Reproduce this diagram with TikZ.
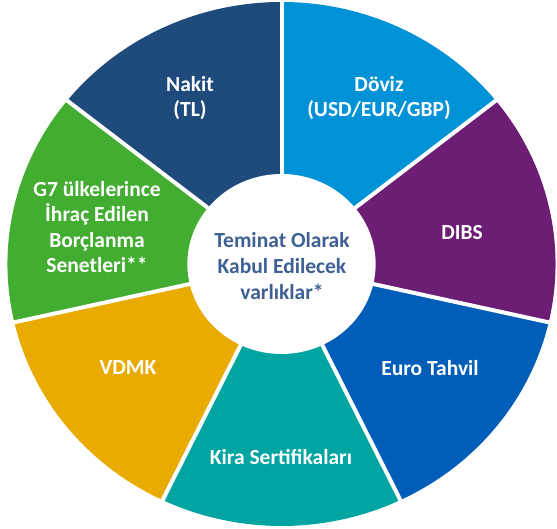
\documentclass[tikz,border=0pt]{standalone}
\usepackage{fontspec}
\setmainfont{Carlito}
\usepackage{tikz}
\usetikzlibrary{positioning, calc}
\definecolor{nakitblue}{RGB}{31,74,124}
\definecolor{dovizblue}{RGB}{0,146,214}
\definecolor{dibspurple}{RGB}{107,30,116}
\definecolor{euroblue}{RGB}{0,94,184}
\definecolor{kirateal}{RGB}{0,164,160}
\definecolor{vdmkgold}{RGB}{234,171,0}
\definecolor{gyedigreen}{RGB}{67,173,50}
\definecolor{hubtext}{RGB}{62,96,148}
\tikzstyle{slice} = [draw=none]
\tikzstyle{gap} = [white, line width=4pt]
\tikzstyle{label} = [text=white, font=\bfseries\fontsize{21.5}{25.5}\selectfont, align=center]
\tikzstyle{hub} = [text=hubtext, font=\bfseries\fontsize{21.5}{26}\selectfont, align=center]

\begin{document}
\begin{tikzpicture}[x=1pt, y=1pt]
            \useasboundingbox (0,0) rectangle (557,529);
            \coordinate (c) at (281.5,265);
            \begin{scope}[shift={(c)}, xscale=1.046]
            \fill[slice, nakitblue] (0,0) -- (141.43:262) arc[start angle=141.43, end angle=90, radius=262] -- cycle;
            \fill[slice, dovizblue] (0,0) -- (90:262) arc[start angle=90, end angle=38.57, radius=262] -- cycle;
            \fill[slice, dibspurple] (0,0) -- (38.57:262) arc[start angle=38.57, end angle=-12.86, radius=262] -- cycle;
            \fill[slice, euroblue] (0,0) -- (-12.86:262) arc[start angle=-12.86, end angle=-64.29, radius=262] -- cycle;
            \fill[slice, kirateal] (0,0) -- (-64.29:262) arc[start angle=-64.29, end angle=-115.71, radius=262] -- cycle;
            \fill[slice, vdmkgold] (0,0) -- (-115.71:262) arc[start angle=-115.71, end angle=-167.14, radius=262] -- cycle;
            \fill[slice, gyedigreen] (0,0) -- (192.86:262) arc[start angle=192.86, end angle=141.43, radius=262] -- cycle;
            % white separators
            \draw[gap] (0,0) -- (90:270);
            \draw[gap] (0,0) -- (38.57:270);
            \draw[gap] (0,0) -- (-12.86:270);
            \draw[gap] (0,0) -- (-64.29:270);
            \draw[gap] (0,0) -- (-115.71:270);
            \draw[gap] (0,0) -- (-167.14:270);
            \draw[gap] (0,0) -- (141.43:270);
            \fill[white] (0,0) circle[radius=90];
            \end{scope}
            \node[label] (nakit) at (190,431) {Nakit\\(TL)};
            \node[label] (doviz) at (379,431) {Döviz\\(USD/EUR/GBP)};
            \node[label] (dibs) at (462,296) {DIBS};
            \node[label] (euro) at (430,161) {Euro Tahvil};
            \node[label] (kira) at (281,72) {Kira Sertifikaları};
            \node[label] (vdmk) at (128,161) {VDMK};
            \node[label] (gyedi) at (97,302) {G7 ülkelerince\\İhraç Edilen\\Borçlanma\\Senetleri**};
            \node[hub] (teminat) at (282,263) {Teminat Olarak\\Kabul Edilecek\\varlıklar*};
        \end{tikzpicture}
\end{document}
